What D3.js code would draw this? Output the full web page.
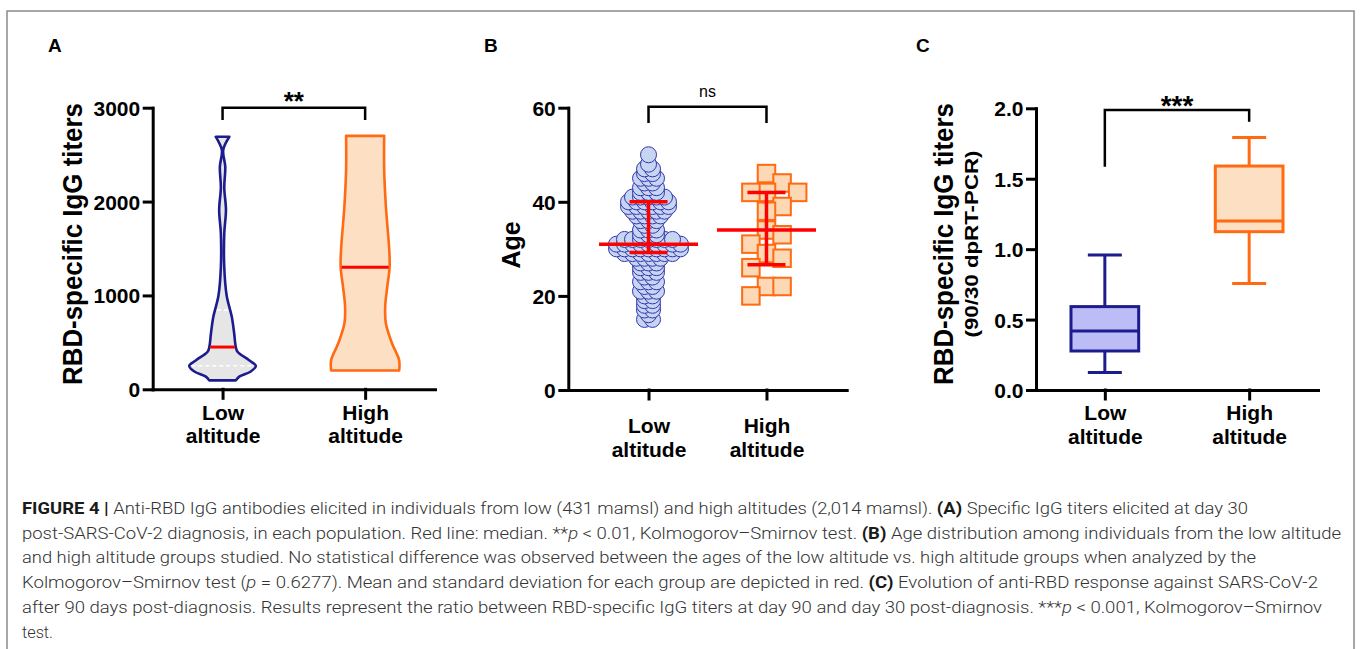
<!DOCTYPE html>
<html>
<head>
<meta charset="utf-8">
<script src="https://cdn.jsdelivr.net/npm/d3@7"></script>
<style>
    body { margin: 0; background: #fff; }
    svg text { font-family: "Liberation Sans", Arial, sans-serif; }
    .axis path, .axis line { stroke: #000; stroke-width: 3; stroke-linecap: square; }
    .axis text { font-size: 21px; font-weight: bold; fill: #000; }
    .caption { font-family: Roboto, "Liberation Sans", sans-serif; font-size: 17px; font-weight: 300; fill: #333; white-space: pre; }
</style>
</head>
<body>
<svg id="fig" width="1360" height="649"></svg>
<script>
// groups shared by all three panels
const groups = ["Low altitude", "High altitude"];

// A: violin outlines, [titer, relative density]
const titerTicks = [0, 1000, 2000, 3000];
const lowViolin = [[2690, 0.20], [2550, 0.02], [2370, 0.08], [2150, 0.05], [1910, 0.10], [1660, 0.05],
    [1300, 0.05], [1000, 0.12], [775, 0.27], [600, 0.34], [450, 0.39], [400, 0.44], [310, 0.78],
    [250, 0.98], [190, 0.83], [135, 0.49], [95, 0.39]];
const highViolin = [[2700, 0.56], [2340, 0.56], [1950, 0.61], [1480, 0.71], [1300, 0.72], [1090, 0.65],
    [880, 0.59], [700, 0.61], [490, 0.79], [310, 1.0], [200, 1.0]];
const titerMedians = [450, 1300];
const lowQuartiles = [250, 845];

// B: ages, low group as [age, count], high group as single values
const ageTicks = [0, 20, 40, 60];
const lowAgeCounts = [[15, 2], [16, 1], [17, 2], [18, 2], [19, 2], [20, 2], [21, 3], [22, 2], [23, 3],
    [24, 2], [25, 3], [26, 3], [27, 3], [28, 4], [29, 7], [30, 9], [31, 9], [32, 7], [33, 3], [34, 3],
    [35, 2], [36, 3], [37, 4], [38, 5], [39, 6], [40, 6], [41, 5], [42, 3], [43, 3], [44, 2], [45, 3],
    [46, 2], [47, 2], [48, 1], [50, 1]];
const highAges = [46, 44, 42, 42, 42, 39, 38, 34, 33, 31, 29, 28, 26, 22, 22, 20];
const ageMean = [31.0, 34.0];
const ageLower = [29.2, 26.6];
const ageUpper = [40.0, 42.0];

// C: box plots of the 90/30 ratio
const ratioTicks = [0, 0.5, 1.0, 1.5, 2.0];
const boxMin = [0.125, 0.757];
const boxQ1 = [0.277, 1.124];
const boxMedian = [0.419, 1.200];
const boxQ3 = [0.592, 1.590];
const boxMax = [0.958, 1.792];

const captionLines = [
    [["FIGURE 4 | ", "b"], ["Anti-RBD IgG antibodies elicited in individuals from low (431 mamsl) and high altitudes (2,014 mamsl). ", ""], ["(A)", "b"], [" Specific IgG titers elicited at day 30", ""]],
    [["post-SARS-CoV-2 diagnosis, in each population. Red line: median. **", ""], ["p", "i"], [" < 0.01, Kolmogorov–Smirnov test. ", ""], ["(B)", "b"], [" Age distribution among individuals from the low altitude", ""]],
    [["and high altitude groups studied. No statistical difference was observed between the ages of the low altitude vs. high altitude groups when analyzed by the", ""]],
    [["Kolmogorov–Smirnov test (", ""], ["p", "i"], [" = 0.6277). Mean and standard deviation for each group are depicted in red. ", ""], ["(C)", "b"], [" Evolution of anti-RBD response against SARS-CoV-2", ""]],
    [["after 90 days post-diagnosis. Results represent the ratio between RBD-specific IgG titers at day 90 and day 30 post-diagnosis. ***", ""], ["p", "i"], [" < 0.001, Kolmogorov–Smirnov", ""]],
    [["test.", ""]]
];

const navy = "#1c1c8c", orange = "#ff6a13", red = "#ff0000";
const svg = d3.select("#fig");

// frame round the whole figure
svg.append("path")
    .attr("d", "M7,649V11H1354V649")
    .attr("fill", "none").attr("stroke", "#8a8a8a").attr("stroke-width", 1.5);

// draw both axes of a panel, x labels in two lines
function drawAxes(x, y, ticks, fmt, labelDy) {
    const ya = svg.append("g").attr("class", "axis")
        .attr("transform", `translate(${x.range()[0]},0)`)
        .call(d3.axisLeft(y).tickValues(ticks).tickFormat(fmt).tickSize(8.5).tickSizeOuter(0).tickPadding(4));
    ya.selectAll(".tick text").attr("dy", "0.36em");

    const xa = svg.append("g").attr("class", "axis")
        .attr("transform", `translate(0,${y.range()[0]})`)
        .call(d3.axisBottom(x).tickSize(9).tickSizeOuter(0));
    xa.selectAll(".tick text").remove();
    xa.selectAll(".tick").each(function(d) {
        const t = d3.select(this).append("text")
            .attr("text-anchor", "middle").attr("fill", "#000");
        d.split(" ").forEach((w, i) => {
            t.append("tspan").attr("x", 0).attr("y", labelDy + i * 23.5).text(w);
        });
    });
}

function bracket(x0, x1, yTop, yLeft, yRight) {
    svg.append("path")
        .attr("d", `M${x0},${yLeft}V${yTop}H${x1}V${yRight}`)
        .attr("fill", "none").attr("stroke", "#000").attr("stroke-width", 2.5);
}

function yTitle(x, y, txt, size, len) {
    const t = svg.append("text")
        .attr("transform", `translate(${x},${y}) rotate(-90)`)
        .attr("text-anchor", "middle")
        .style("font-size", size + "px").style("font-weight", "bold")
        .text(txt);
    if (len) t.attr("textLength", len).attr("lengthAdjust", "spacingAndGlyphs");
}

function panelLabel(x, txt) {
    svg.append("text").attr("x", x).attr("y", 52)
        .style("font-size", "19px").style("font-weight", "bold").text(txt);
}

panelLabel(48, "A");
panelLabel(484, "B");
panelLabel(916, "C");

// ---------- A: violins ----------
const xA = d3.scalePoint().domain(groups).range([152.7, 435]).padding(0.49);
const yA = d3.scaleLinear().domain([0, 3000]).range([389.3, 107.7]);
const wA = d3.scaleLinear().domain([0, 1]).range([0, 34]);

function densityAt(arr, v) {
    const s = arr.slice().sort((a, b) => a[0] - b[0]);
    for (let i = 1; i < s.length; i++) {
        if (v <= s[i][0]) {
            const t = (v - s[i - 1][0]) / (s[i][0] - s[i - 1][0]);
            return s[i - 1][1] + t * (s[i][1] - s[i - 1][1]);
        }
    }
    return s[s.length - 1][1];
}

const violins = [
    { g: groups[0], pts: lowViolin, fill: "#e6e6e6", stroke: navy },
    { g: groups[1], pts: highViolin, fill: "#fddfc4", stroke: orange }
];
violins.forEach((v, i) => {
    const cx = xA(v.g);
    const area = d3.area()
        .y(d => yA(d[0]))
        .x0(d => cx - wA(d[1]))
        .x1(d => cx + wA(d[1]))
        .curve(d3.curveCatmullRom);
    svg.append("path").datum(v.pts)
        .attr("d", area)
        .attr("fill", v.fill).attr("stroke", v.stroke).attr("stroke-width", 2.6)
        .attr("stroke-linejoin", "round");
    if (i === 0) {
        lowQuartiles.forEach(q => {
            const hw = wA(densityAt(v.pts, q)) - 2;
            svg.append("line")
                .attr("x1", cx - hw).attr("x2", cx + hw)
                .attr("y1", yA(q)).attr("y2", yA(q))
                .attr("stroke", "#fff").attr("stroke-width", 1.5).attr("stroke-dasharray", "4,3");
        });
    }
    const hm = wA(densityAt(v.pts, titerMedians[i])) - 1;
    svg.append("line")
        .attr("x1", cx - hm).attr("x2", cx + hm)
        .attr("y1", yA(titerMedians[i])).attr("y2", yA(titerMedians[i]))
        .attr("stroke", red).attr("stroke-width", 3);
});

drawAxes(xA, yA, titerTicks, d3.format("d"), 30.7);
yTitle(82, 244, "RBD-specific IgG titers", 27, 282);
bracket(xA(groups[0]), xA(groups[1]), 107.7, 120, 120);
svg.append("text").attr("x", (xA(groups[0]) + xA(groups[1])) / 2).attr("y", 110)
    .attr("text-anchor", "middle").style("font-size", "26px").style("font-weight", "bold").text("**");

// ---------- B: scatter of ages ----------
const xB = d3.scalePoint().domain(groups).range([568.3, 846.7]).padding(0.68);
const yB = d3.scaleLinear().domain([0, 60]).range([390, 107.7]);

// low group: each age row spread sideways, rows overlap
const lowPts = [];
lowAgeCounts.forEach(([age, n]) => {
    for (let i = 0; i < n; i++) lowPts.push({ age, off: (i - (n - 1) / 2) * 8 });
});
svg.append("g").selectAll("circle").data(lowPts).join("circle")
    .attr("cx", d => xB(groups[0]) + d.off)
    .attr("cy", d => yB(d.age))
    .attr("r", 8)
    .attr("fill", "#c6d5f1").attr("stroke", "#3535aa").attr("stroke-width", 1);

// high group: greedy slots so squares do not sit on top of each other
const side = 17.5, step = 15.6;
const placed = [];
highAges.slice().sort((a, b) => b - a).forEach(age => {
    const py = yB(age);
    for (const k of [0, 1, -1, 2, -2, 3, -3]) {
        if (!placed.some(p => p.k === k && Math.abs(p.py - py) < side - 0.5)) {
            placed.push({ age, py, k });
            break;
        }
    }
});
svg.append("g").selectAll("rect").data(placed).join("rect")
    .attr("x", d => xB(groups[1]) + d.k * step - side / 2)
    .attr("y", d => d.py - side / 2)
    .attr("width", side).attr("height", side)
    .attr("fill", "#fcd8b4").attr("stroke", orange).attr("stroke-width", 2);

groups.forEach((g, i) => {
    const cx = xB(g);
    const red3 = sel => sel.attr("stroke", red).attr("stroke-width", 3.5);
    svg.append("line").attr("x1", cx - 49.5).attr("x2", cx + 49.5)
        .attr("y1", yB(ageMean[i])).attr("y2", yB(ageMean[i])).call(red3);
    svg.append("line").attr("x1", cx).attr("x2", cx)
        .attr("y1", yB(ageUpper[i])).attr("y2", yB(ageLower[i])).call(red3);
    [ageUpper[i], ageLower[i]].forEach(v => {
        svg.append("line").attr("x1", cx - 19).attr("x2", cx + 19)
            .attr("y1", yB(v)).attr("y2", yB(v)).call(red3);
    });
});

drawAxes(xB, yB, ageTicks, d3.format("d"), 43);
yTitle(520, 245, "Age", 25);
bracket(xB(groups[0]), xB(groups[1]), 106.7, 123, 123);
svg.append("text").attr("x", (xB(groups[0]) + xB(groups[1])) / 2).attr("y", 97)
    .attr("text-anchor", "middle").style("font-size", "16px").text("ns");

// ---------- C: box plots ----------
const xC = d3.scalePoint().domain(groups).range([1036, 1318]).padding(0.477);
const yC = d3.scaleLinear().domain([0, 2]).range([390, 108.3]);
const boxColors = [{ fill: "#bcbcf6", stroke: navy }, { fill: "#fddfc4", stroke: orange }];

groups.forEach((g, i) => {
    const cx = xC(g), bw = 67.7, cw = 34;
    const c = boxColors[i];
    const s = sel => sel.attr("stroke", c.stroke).attr("stroke-width", 3);
    svg.append("line").attr("x1", cx).attr("x2", cx).attr("y1", yC(boxMax[i])).attr("y2", yC(boxQ3[i])).call(s);
    svg.append("line").attr("x1", cx).attr("x2", cx).attr("y1", yC(boxQ1[i])).attr("y2", yC(boxMin[i])).call(s);
    [boxMax[i], boxMin[i]].forEach(v => {
        svg.append("line").attr("x1", cx - cw / 2).attr("x2", cx + cw / 2).attr("y1", yC(v)).attr("y2", yC(v)).call(s);
    });
    svg.append("rect").attr("x", cx - bw / 2).attr("width", bw)
        .attr("y", yC(boxQ3[i])).attr("height", yC(boxQ1[i]) - yC(boxQ3[i]))
        .attr("fill", c.fill).call(s);
    svg.append("line").attr("x1", cx - bw / 2).attr("x2", cx + bw / 2)
        .attr("y1", yC(boxMedian[i])).attr("y2", yC(boxMedian[i])).call(s);
});

drawAxes(xC, yC, ratioTicks, d3.format(".1f"), 30);
yTitle(953, 244, "RBD-specific IgG titers", 27, 282);
yTitle(978, 244, "(90/30 dpRT-PCR)", 19, 187);
bracket(xC(groups[0]), xC(groups[1]), 110, 166.7, 121.7);
svg.append("text").attr("x", (xC(groups[0]) + xC(groups[1])) / 2).attr("y", 115)
    .attr("text-anchor", "middle").style("font-size", "28px").style("font-weight", "bold").text("***");

// ---------- caption ----------
const captionRight = [1248, 1341, 1256, 1318, 1322, 53];
captionLines.forEach((segs, i) => {
    const t = svg.append("text").attr("class", "caption")
        .attr("x", 22).attr("y", 514 + i * 24.7)
        .attr("textLength", captionRight[i] - 22).attr("lengthAdjust", "spacingAndGlyphs");
    segs.forEach(([txt, st]) => {
        const sp = t.append("tspan").text(txt);
        if (st === "b") sp.style("font-weight", "bold").style("fill", "#1a1a1a");
        if (st === "i") sp.style("font-style", "italic");
    });
});
</script>
</body>
</html>
